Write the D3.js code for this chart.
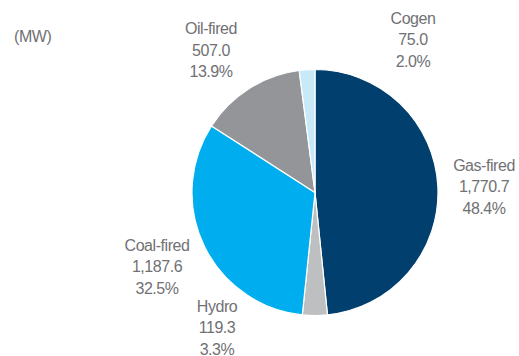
<!DOCTYPE html>
<html>
<head>
<meta charset="utf-8">
<script src="https://cdn.jsdelivr.net/npm/d3@7"></script>
<style>
  html, body { margin: 0; padding: 0; background: #ffffff; }
  svg { display: block; }
  text { font-family: "Liberation Sans", Arial, sans-serif; fill: #707174; }
</style>
</head>
<body>
<svg id="chart" width="519" height="356"></svg>
<script>
// Installed capacity by fuel type (MW), clockwise from 12 o'clock
const categories = ["Gas-fired", "Hydro", "Coal-fired", "Oil-fired", "Cogen"];
const capacityMW = [1770.7, 119.3, 1187.6, 507.0, 75.0];
const shareLabels = ["48.4%", "3.3%", "32.5%", "13.9%", "2.0%"];
const valueLabels = ["1,770.7", "119.3", "1,187.6", "507.0", "75.0"];
const sliceColors = ["#003f6e", "#bdbfc1", "#00aeef", "#939598", "#c8e9f8"];
const unitLabel = "(MW)";

// Label block anchors: [centre x, first-line baseline]
const labelAnchors = [[484, 170.5], [217, 311.5], [157, 250.5], [211, 34.3], [413, 23.5]];

const width = 519, height = 356;
const cx = 315, cy = 192.5, radius = 123;
const lineStep = 21.5;

const svg = d3.select("#chart");

const pie = d3.pie().sort(null).value(d => d)(capacityMW);
const arc = d3.arc().innerRadius(0).outerRadius(radius);

svg.append("g")
  .attr("transform", `translate(${cx},${cy})`)
  .selectAll("path")
  .data(pie)
  .join("path")
  .attr("d", arc)
  .attr("fill", (d, i) => sliceColors[i])
  .attr("stroke", "#ffffff")
  .attr("stroke-width", 1.2);

const labels = svg.append("g")
  .selectAll("text")
  .data(categories)
  .join("text")
  .attr("text-anchor", "middle")
  .attr("font-size", 16)
  .attr("letter-spacing", "-0.45px")
  .attr("x", (d, i) => labelAnchors[i][0])
  .attr("y", (d, i) => labelAnchors[i][1]);

labels.each(function(d, i) {
  const t = d3.select(this);
  [d, valueLabels[i], shareLabels[i]].forEach((line, k) => {
    t.append("tspan")
      .attr("x", labelAnchors[i][0])
      .attr("dy", k === 0 ? 0 : lineStep)
      .text(line);
  });
});

svg.append("text")
  .attr("x", 14)
  .attr("y", 41.5)
  .attr("font-size", 16)
  .attr("letter-spacing", "-0.45px")
  .text(unitLabel);
</script>
</body>
</html>
